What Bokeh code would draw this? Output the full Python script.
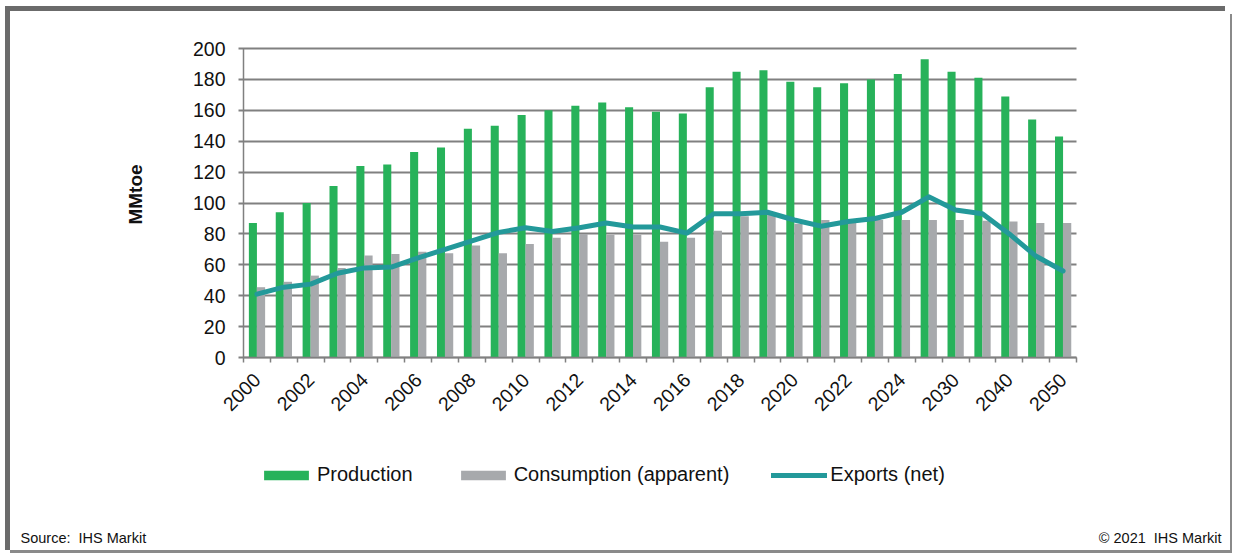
import math
from bokeh.plotting import figure
from bokeh.models import (ColumnDataSource, Range1d, FixedTicker, Legend, LegendItem, Label)
from bokeh.transform import dodge
from bokeh.embed import file_html
from bokeh.resources import INLINE

years = ["2000", "2001", "2002", "2003", "2004", "2005", "2006", "2007", "2008", "2009",
         "2010", "2011", "2012", "2013", "2014", "2015", "2016", "2017", "2018", "2019",
         "2020", "2021", "2022", "2023", "2024", "2025", "2030", "2035", "2040", "2045", "2050"]
production = [87, 94, 100, 111, 124, 125, 133, 136, 148, 150,
              157, 160, 163, 165, 162, 159, 158, 175, 185, 186,
              178.5, 175, 177.5, 180, 183.5, 193, 185, 181, 169, 154, 143]
consumption = [45.5, 49, 53, 58, 66, 67, 68.5, 67.5, 72.5, 67.5,
               73.5, 77.5, 80, 79.5, 79.5, 75, 77.5, 82, 91.5, 92.5,
               86.5, 89, 88.5, 89, 89, 89, 89, 88.5, 88, 87, 87]
exports = [41, 45.5, 47.5, 54.5, 58, 58.5, 64.5, 70, 75.5, 81,
           84, 81.5, 84, 87, 84.5, 84.5, 80.5, 93, 93, 94,
           89, 85, 88, 90, 94, 104, 95.5, 93, 80, 65.5, 56]
y_ticks = list(range(0, 201, 20))
tick_labels = {i: years[i] for i in range(0, len(years), 2)}

idx = list(range(len(years)))
src = ColumnDataSource(dict(idx=idx, year=years, production=production,
                            consumption=consumption, exports=exports))

GREEN = "#27B25A"
GREY = "#A7A9AC"
TEAL = "#23999A"
GRID = "#808080"
FONT = "Liberation Sans"
TXT = "#111111"

# canvas geometry (px): the plotting frame fills the whole canvas
W, H = 1220, 539
AX_L, AX_R = 233, 1066          # left / right edge of the category area
AX_T, AX_B = 37, 346            # y of top value and of zero
n = len(years)
px_cat = (AX_R - AX_L) / n
px_val = (AX_B - AX_T) / 200.0
x_start = -0.5 - AX_L / px_cat
x_end = n - 0.5 + (W - AX_R) / px_cat
y_end = 200 + AX_T / px_val
y_start = -(H - AX_B) / px_val

p = figure(width=W, height=H, output_backend="svg", toolbar_location=None,
           x_range=Range1d(x_start, x_end), y_range=Range1d(y_start, y_end),
           min_border_left=0, min_border_right=0, min_border_top=0, min_border_bottom=0)
p.styles = {"margin-left": "10px", "margin-top": "11px",
            "box-shadow": "-5px -5px 0 0 #6B6B6B, -5px 0 0 0 #6B6B6B, 2px 3px 0 0 #8A8A8A, 0 3px 0 0 #8A8A8A"}
p.outline_line_color = None
p.background_fill_color = "white"
p.border_fill_color = "white"
p.xgrid.grid_line_color = None
p.ygrid.grid_line_color = None

r_prod = p.vbar(x=dodge("idx", -0.15, range=p.x_range), top="production", width=0.3,
                source=src, fill_color=GREEN, line_color=None)
r_cons = p.vbar(x=dodge("idx", 0.15, range=p.x_range), top="consumption", width=0.31,
                source=src, fill_color=GREY, line_color=None)
r_exp = p.line(x="idx", y="exports", source=src, line_color=TEAL, line_width=5,
               line_join="round", line_cap="round")

# y axis at the left edge of the category area; long inward ticks act as gridlines
p.yaxis.fixed_location = -0.5
p.yaxis.level = "underlay"
p.yaxis.bounds = (0, 200)
p.yaxis.ticker = FixedTicker(ticks=y_ticks)
p.yaxis.axis_line_color = GRID
p.yaxis.axis_line_width = 1.5
p.yaxis.major_tick_line_color = GRID
p.yaxis.major_tick_line_width = 2
p.yaxis.major_tick_out = 5
p.yaxis.major_tick_in = AX_R - AX_L
p.yaxis.minor_tick_line_color = None
p.yaxis.major_label_standoff = 13
p.yaxis.major_label_text_font = FONT
p.yaxis.major_label_text_font_size = "19.5px"
p.yaxis.major_label_text_color = TXT

# x axis at value 0
p.xaxis.fixed_location = 0
p.xaxis.bounds = (-0.5, n - 0.5)
p.xaxis.ticker = FixedTicker(ticks=list(range(0, n, 2)),
                             minor_ticks=[i - 0.5 for i in range(n + 1)])
p.xaxis.major_label_overrides = tick_labels
p.xaxis.major_label_orientation = math.pi / 4
p.xaxis.axis_line_color = GRID
p.xaxis.axis_line_width = 1.5
p.xaxis.major_tick_out = 0
p.xaxis.major_tick_in = 0
p.xaxis.minor_tick_out = 5
p.xaxis.minor_tick_in = 0
p.xaxis.minor_tick_line_color = GRID
p.xaxis.minor_tick_line_width = 1.5
p.xaxis.major_label_standoff = 14
p.xaxis.major_label_text_font = FONT
p.xaxis.major_label_text_font_size = "19.5px"
p.xaxis.major_label_text_color = TXT

p.add_layout(Label(x=125, y=H - 183, x_units="screen", y_units="screen", angle=math.pi / 2,
                   text="MMtoe", text_font=FONT, text_font_size="19px", text_font_style="bold",
                   text_align="center", text_baseline="middle", text_color=TXT))

legend = Legend(items=[LegendItem(label="Production", renderers=[r_prod]),
                       LegendItem(label="Consumption (apparent)", renderers=[r_cons]),
                       LegendItem(label="Exports (net)", renderers=[r_exp])],
                orientation="horizontal", location=(248, H - 463 - 12))
legend.padding = 0
legend.margin = 0
legend.spacing = 42
legend.border_line_color = None
legend.background_fill_alpha = 0
legend.glyph_width = 56
legend.glyph_height = 12
legend.label_standoff = 3
legend.label_height = 20
legend.label_text_font = FONT
legend.label_text_font_size = "20px"
legend.label_text_color = TXT
p.add_layout(legend)

p.add_layout(Label(x=10, y=H - 526, x_units="screen", y_units="screen",
                   text="Source: \u00a0IHS Markit", text_font=FONT, text_font_size="14.5px",
                   text_baseline="middle", text_color=TXT))
p.add_layout(Label(x=1211, y=H - 526, x_units="screen", y_units="screen",
                   text="\u00a9 2021 \u00a0IHS Markit", text_font=FONT, text_font_size="14.5px",
                   text_baseline="middle", text_align="right", text_color=TXT))

open("out.html", "w").write(file_html(p, INLINE))
